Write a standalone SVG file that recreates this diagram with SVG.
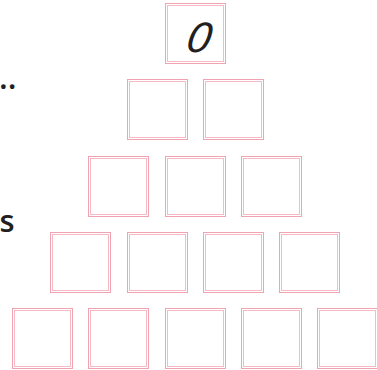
<svg xmlns="http://www.w3.org/2000/svg" width="377" height="370" viewBox="0 0 377 370">
<style>
.o{fill:#fff;stroke:#f2a3b2;stroke-width:1}
.i{fill:none;stroke:#f6bac5;stroke-width:1}
.t{font-family:"Open Sans","DejaVu Sans",sans-serif;fill:#231f20}
</style>
<rect width="377" height="370" fill="#fff"/>
<text class="t" x="-1" y="88.5" font-size="32" font-weight="600">..</text>
<text class="t" x="-0.5" y="232" font-size="31" font-weight="600">s</text>
<g id="n0"><rect class="o" x="165.5" y="3.5" width="60" height="60"/><rect class="i" x="167.5" y="5.5" width="56" height="56"/><text class="t" transform="translate(197,52) skewX(-10) scale(1.12,1)" x="0" y="0" font-size="41" font-style="italic" text-anchor="middle">0</text></g>
<g id="n1"><rect class="o" x="127.5" y="79.5" width="60" height="60"/><rect class="i" x="129.5" y="81.5" width="56" height="56"/></g>
<g id="n2"><rect class="o" x="203.5" y="79.5" width="60" height="60"/><rect class="i" x="205.5" y="81.5" width="56" height="56"/></g>
<g id="n3"><rect class="o" x="88.5" y="156.5" width="60" height="60"/><rect class="i" x="90.5" y="158.5" width="56" height="56"/></g>
<g id="n4"><rect class="o" x="165.5" y="156.5" width="60" height="60"/><rect class="i" x="167.5" y="158.5" width="56" height="56"/></g>
<g id="n5"><rect class="o" x="241.5" y="156.5" width="60" height="60"/><rect class="i" x="243.5" y="158.5" width="56" height="56"/></g>
<g id="n6"><rect class="o" x="50.5" y="232.5" width="60" height="60"/><rect class="i" x="52.5" y="234.5" width="56" height="56"/></g>
<g id="n7"><rect class="o" x="127.5" y="232.5" width="60" height="60"/><rect class="i" x="129.5" y="234.5" width="56" height="56"/></g>
<g id="n8"><rect class="o" x="203.5" y="232.5" width="60" height="60"/><rect class="i" x="205.5" y="234.5" width="56" height="56"/></g>
<g id="n9"><rect class="o" x="279.5" y="232.5" width="60" height="60"/><rect class="i" x="281.5" y="234.5" width="56" height="56"/></g>
<g id="n10"><rect class="o" x="12.5" y="308.5" width="60" height="60"/><rect class="i" x="14.5" y="310.5" width="56" height="56"/></g>
<g id="n11"><rect class="o" x="88.5" y="308.5" width="60" height="60"/><rect class="i" x="90.5" y="310.5" width="56" height="56"/></g>
<g id="n12"><rect class="o" x="165.5" y="308.5" width="60" height="60"/><rect class="i" x="167.5" y="310.5" width="56" height="56"/></g>
<g id="n13"><rect class="o" x="241.5" y="308.5" width="60" height="60"/><rect class="i" x="243.5" y="310.5" width="56" height="56"/></g>
<g id="n14"><rect class="o" x="317.5" y="308.5" width="60" height="60"/><rect class="i" x="319.5" y="310.5" width="56" height="56"/></g>
<g id="connectors"/>
</svg>
